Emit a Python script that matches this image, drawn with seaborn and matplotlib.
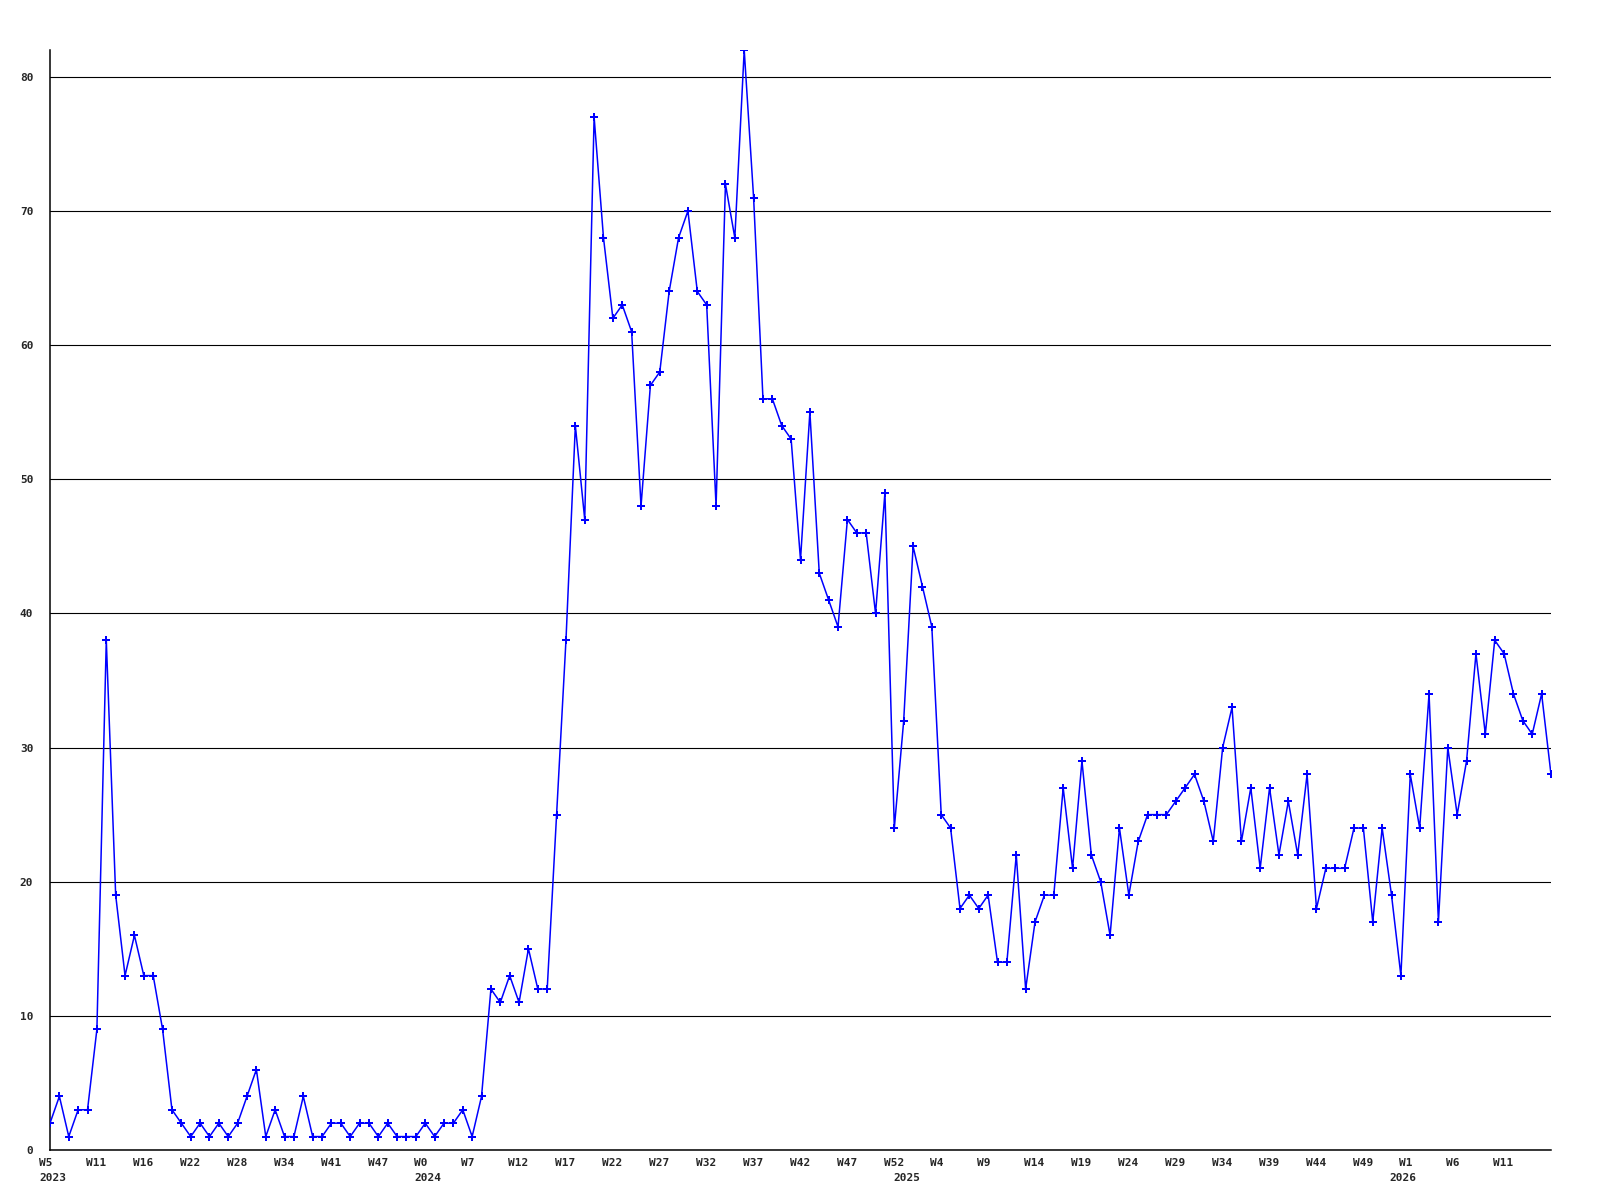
import numpy as np
import pandas as pd
import matplotlib
matplotlib.use("Agg")
import matplotlib.pyplot as plt
import matplotlib.transforms as mtransforms
import seaborn as sns

# weekly counts
counts = [2, 4, 1, 3, 3, 9, 38, 19, 13, 16, 13, 13, 9,
          3, 2, 1, 2, 1, 2, 1, 2, 4, 6, 1, 3, 1, 1, 4, 1, 1, 2, 2, 1, 2, 2, 1, 2, 1, 1, 1, 2, 1, 2, 2, 3, 1, 4,
          12, 11, 13, 11, 15, 12, 12, 25, 38, 54, 47,
          77, 68, 62, 63, 61, 48, 57, 58, 64, 68, 70, 64, 63, 48, 72, 68, 82, 71,
          56, 56, 54, 53, 44, 55, 43, 41, 39, 47, 46, 46, 40, 49, 24, 32, 45, 42, 39, 25, 24,
          18, 19, 18, 19, 14, 14, 22, 12, 17, 19, 19, 27, 21, 29, 22, 20, 16, 24, 19, 23,
          25, 25, 25, 26, 27, 28, 26, 23, 30, 33,
          23, 27, 21, 27, 22, 26, 22, 28, 18, 21, 21, 21, 24, 24, 17, 24, 19, 13, 28, 24,
          34, 17, 30, 25, 29, 37, 31, 38, 37, 34, 32, 31, 34, 28]

week_labels = ["W5", "W11", "W16", "W22", "W28", "W34", "W41", "W47", "W0", "W7", "W12",
               "W17", "W22", "W27", "W32", "W37", "W42", "W47", "W52", "W4", "W9", "W14",
               "W19", "W24", "W29", "W34", "W39", "W44", "W49", "W1", "W6", "W11"]
year_labels = ["2023", "2024", "2025", "2026"]
year_week_pos = [0, 40, 91, 143.95]

df = pd.DataFrame({"week": np.arange(len(counts)), "count": counts})

sns.set_style("white")
plt.rcParams["font.family"] = ["DejaVu Sans Mono"]
plt.rcParams["font.weight"] = "bold"

fig = plt.figure(figsize=(16, 12), dpi=100)
ax = fig.add_axes([50 / 1600, 50 / 1200, 1501 / 1600, 1100 / 1200])

sns.lineplot(data=df, x="week", y="count", ax=ax, color="#0000ff", linewidth=1.1,
             marker="P", markersize=5.5, markeredgewidth=0, zorder=3)

ax.set_xlim(0, len(counts) - 1)
ax.set_ylim(0, 82)

# horizontal grid
ax.set_yticks(np.arange(0, 81, 10))
ax.yaxis.grid(True, color="black", linewidth=0.8)
ax.xaxis.grid(False)
ax.set_axisbelow(True)

for s in ["top", "right"]:
    ax.spines[s].set_visible(False)
for s in ["left", "bottom"]:
    ax.spines[s].set_color("black")
    ax.spines[s].set_linewidth(1.1)

# x labels: left aligned, starting ~11px left of their week
ax.set_xticks([])
xt = ax.get_xaxis_transform()
week_pos = np.arange(len(week_labels)) * 5
for pos, lab in zip(week_pos, week_labels):
    ax.text(pos, 0, lab, transform=xt + mtransforms.ScaledTranslation(-0.108, -0.08, fig.dpi_scale_trans),
            ha="left", va="top", fontsize=8, fontweight="bold", clip_on=False)
for pos, lab in zip(year_week_pos, year_labels):
    ax.text(pos, 0, lab, transform=xt + mtransforms.ScaledTranslation(-0.108, -0.23, fig.dpi_scale_trans),
            ha="left", va="top", fontsize=8, fontweight="bold", clip_on=False)

ax.tick_params(axis="y", length=0, pad=12, labelsize=8)
for lab in ax.get_yticklabels():
    lab.set_fontweight("bold")

ax.set_xlabel("")
ax.set_ylabel("")

plt.savefig("out.png", dpi=100)
plt.close()
